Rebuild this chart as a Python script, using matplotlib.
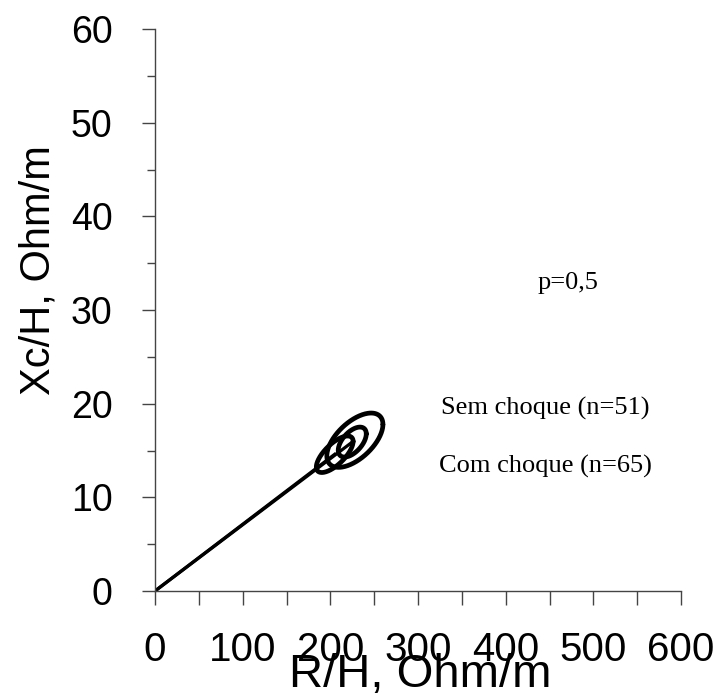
import numpy as np
import matplotlib
matplotlib.use("Agg")
import matplotlib.pyplot as plt
from matplotlib.ticker import MultipleLocator
from matplotlib import font_manager

# Data
ellipse_center_R = [228, 205, 225]
ellipse_center_Xc = [16.1, 14.6, 15.9]
ellipse_sd_R = [32, 21, 16]
ellipse_sd_Xc = [2.9, 1.95, 1.6]
ellipse_rho = [0.58, 0.7, 0.55]
vector_R = [205, 225]
vector_Xc = [14.6, 15.9]
annotations = ["p=0,5", "Sem choque (n=51)", "Com choque (n=65)"]
annot_x = [471, 445, 445]
annot_y = [32.9, 19.5, 13.3]

try:
    font_manager.findfont("Liberation Sans Narrow", fallback_to_default=False)
    narrow = "Liberation Sans Narrow"
    xtick_size = 33
except Exception:
    narrow = "Liberation Sans"
    xtick_size = 29

fig = plt.figure(figsize=(7.2, 6.97), dpi=100)
ax = fig.add_axes([155/720, 1-591/697, 526/720, 562/697])

t = np.linspace(0, 2*np.pi, 300)
for cR, cX, sR, sX, r in zip(ellipse_center_R, ellipse_center_Xc, ellipse_sd_R, ellipse_sd_Xc, ellipse_rho):
    R = cR + sR*np.cos(t)
    X = cX + sX*(r*np.cos(t) + np.sqrt(1-r*r)*np.sin(t))
    ax.plot(R, X, color="black", lw=3.4, solid_capstyle="round")

for vr, vx in zip(vector_R, vector_Xc):
    ax.plot([0, vr], [0, vx], color="black", lw=2.3)

for s, x, y in zip(annotations, annot_x, annot_y):
    ax.text(x, y, s, ha="center", va="center", fontsize=19, family="Liberation Serif")

ax.set_xlim(0, 600)
ax.set_ylim(0, 60)
ax.xaxis.set_major_locator(MultipleLocator(100))
ax.xaxis.set_minor_locator(MultipleLocator(50))
ax.yaxis.set_major_locator(MultipleLocator(10))
ax.yaxis.set_minor_locator(MultipleLocator(5))
for s in ["top", "right"]:
    ax.spines[s].set_visible(False)
for s in ["left", "bottom"]:
    ax.spines[s].set_color("#444444")
    ax.spines[s].set_linewidth(1.0)
ax.tick_params(axis="x", which="both", length=10, width=1.0, color="#444444", pad=19,
               labelsize=xtick_size)
ax.tick_params(axis="y", which="major", length=9.5, width=1.0, color="#444444", pad=21,
               labelsize=27)
ax.tick_params(axis="y", which="minor", length=6, width=1.0, color="#444444")
for lab in ax.get_xticklabels():
    lab.set_family(narrow)
for lab in ax.get_yticklabels():
    lab.set_family("Liberation Sans")

ax.set_xlabel("R/H, Ohm/m", fontsize=34, family="Liberation Sans", va="baseline")
ax.xaxis.set_label_coords(0.504, (591-687)/562)
ax.set_ylabel("Xc/H, Ohm/m", fontsize=30, family="Liberation Sans", va="center")
ax.yaxis.set_label_coords(-0.222, 0.571)

fig.savefig("out.png", dpi=100)
